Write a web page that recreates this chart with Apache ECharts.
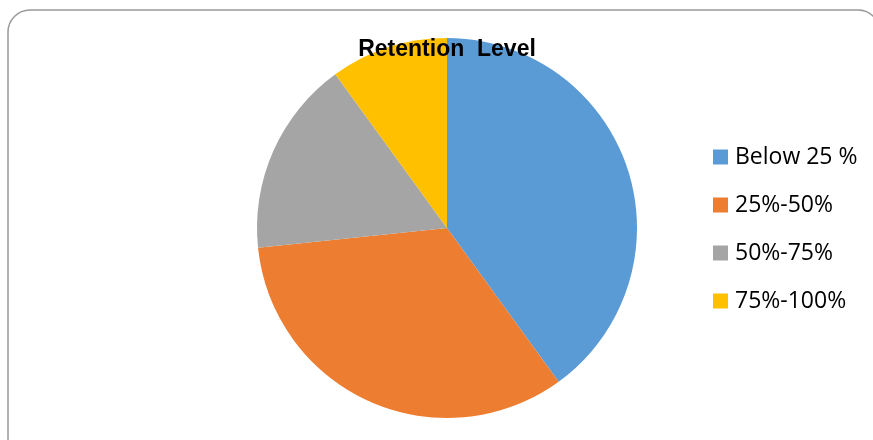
<!DOCTYPE html>
<html>
<head>
<meta charset="utf-8">
<script src="https://cdn.jsdelivr.net/npm/echarts@6/dist/echarts.min.js"></script>
<style>
  html, body { margin: 0; padding: 0; background: #fff; }
  #chart { width: 873px; height: 440px; }
</style>
</head>
<body>
<div id="chart"></div>
<script>
// Share of respondents at each retention level
const categories = ['Below 25 %', '25%-50%', '50%-75%', '75%-100%'];
const shares = [24, 20, 10, 6];
const colors = ['#5B9BD5', '#ED7D31', '#A5A5A5', '#FFC000'];

const chart = echarts.init(document.getElementById('chart'));
chart.setOption({
  animation: false,
  color: colors,
  title: {
    text: 'Retention  Level',
    left: 447,
    textAlign: 'center',
    top: 37,
    padding: 0,
    textStyle: { fontFamily: 'Liberation Sans', fontWeight: 'bold', fontSize: 23, lineHeight: 26, color: '#000' }
  },
  legend: {
    orient: 'vertical',
    left: 713,
    top: 145,
    padding: 0,
    itemWidth: 15,
    itemHeight: 15,
    itemGap: 24,
    icon: 'rect',
    textStyle: { fontFamily: 'Open Sans', fontSize: 23, lineHeight: 24, color: '#000', padding: [0, 0, 0, 2] },
    data: categories
  },
  graphic: [{
    type: 'rect',
    z: -1,
    shape: { x: 8, y: 10, width: 872, height: 450, r: 22 },
    style: { fill: 'none', stroke: '#9a9a9a', lineWidth: 1.5 }
  }],
  series: [{
    type: 'pie',
    center: [447, 228],
    radius: 190,
    startAngle: 90,
    clockwise: true,
    label: { show: false },
    labelLine: { show: false },
    emphasis: { disabled: true },
    itemStyle: { borderWidth: 0 },
    data: categories.map((name, i) => ({ name, value: shares[i] }))
  }]
});
</script>
</body>
</html>
